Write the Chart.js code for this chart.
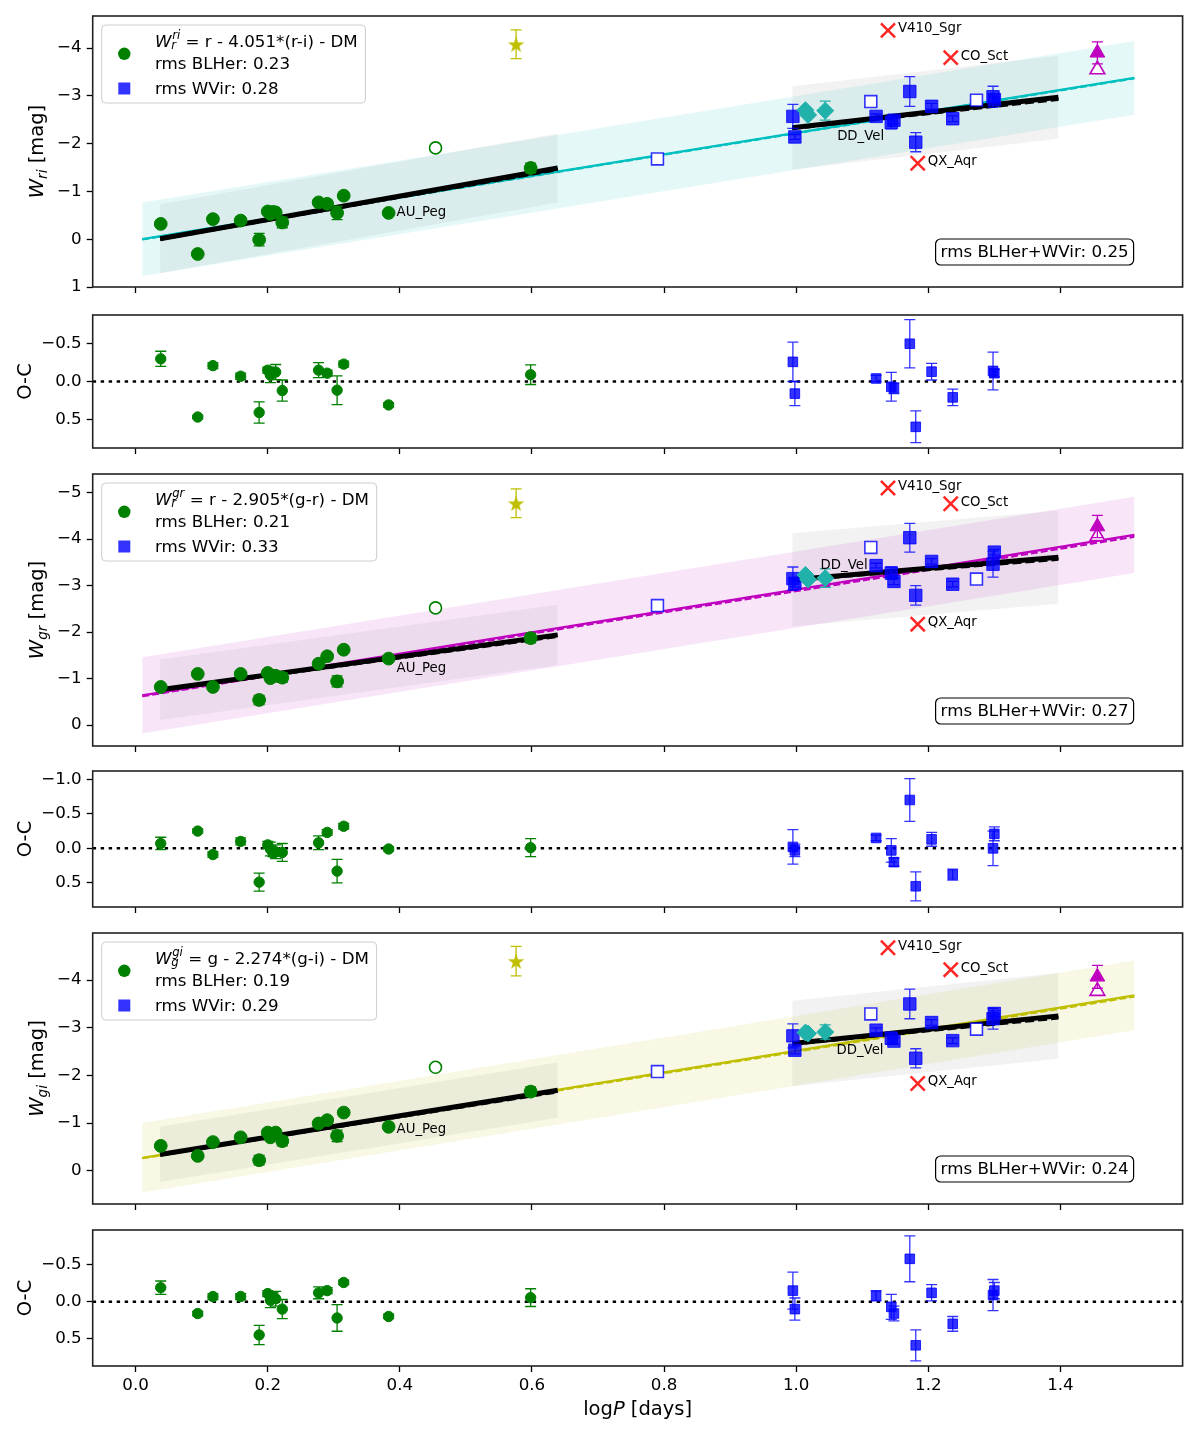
<!DOCTYPE html>
<html><head><meta charset="utf-8">
<script src="https://cdn.jsdelivr.net/npm/chart.js@4.4.1/dist/chart.umd.min.js"></script>
<style>
html,body{margin:0;padding:0;background:#fff;}
#wrap{position:relative;width:1200px;height:1432px;background:#fff;overflow:hidden;}
#wrap canvas{position:absolute;left:0;}
</style></head><body><div id="wrap"></div>
<script>
// ---------------- data ----------------
const xTicks = [0.0, 0.2, 0.4, 0.6, 0.8, 1.0, 1.2, 1.4];
const xMin = -0.065, xMax = 1.585;

const blhLogP = [0.038, 0.094, 0.117, 0.159, 0.187, 0.200, 0.204, 0.208, 0.212, 0.222, 0.277, 0.290, 0.305, 0.315, 0.383, 0.598];
const wvLogP = [0.995, 0.998, 1.121, 1.144, 1.148, 1.172, 1.181, 1.205, 1.237, 1.298, 1.300];
const openSqLogP = [0.790, 1.113, 1.273];
const openCircLogP = [0.454];
const starLogP = [0.576];
const diamondLogP = [1.014, 1.018, 1.044];
const outlierNames = ['V410_Sgr', 'CO_Sct', 'QX_Aqr'];
const outlierLogP = [1.139, 1.234, 1.184];
const triLogP = [1.456];
const fitLogP = [0.01, 1.512];
const blhFitLogP = [0.037, 0.639];
const wvFitLogP = [0.994, 1.397];

// r-i Wesenheit panel
const riTicks = [-4, -3, -2, -1, 0, 1];
const ri_blh = [-0.32, 0.31, -0.42, -0.39, 0.01, -0.58, -0.53, -0.57, -0.56, -0.35, -0.77, -0.74, -0.55, -0.91, -0.55, -1.49];
const ri_blhErr = [0.04, 0.03, 0.03, 0.04, 0.13, 0.04, 0.05, 0.05, 0.05, 0.11, 0.05, 0.05, 0.14, 0.03, 0.03, 0.10];
const ri_wv = [-2.57, -2.14, -2.57, -2.44, -2.49, -3.09, -2.03, -2.78, -2.52, -2.98, -2.92];
const ri_wvErr = [0.25, 0.05, 0.05, 0.13, 0.07, 0.31, 0.20, 0.06, 0.06, 0.22, 0.05];
const ri_openSq = [-1.68, -2.88, -2.91];
const ri_openCirc = [-1.91];
const ri_star = [-4.08], ri_starErr = [0.30];
const ri_diamond = [-2.70, -2.60, -2.69], ri_diamondErr = [0.05, 0.05, 0.20];
const ri_outlier = [-4.37, -3.80, -1.59];
const ri_triFilled = [-3.90], ri_triErr = [0.23], ri_triOpen = [-3.55];
const ri_fit = [0.00, -3.375], ri_fitDash = [0.005, -3.365], ri_band = 0.77;
const ri_blhFit = [-0.01, -1.49], ri_blhFitDash = [-0.005, -1.46], ri_blhBand = 0.72;
const ri_wvFit = [-2.33, -2.97], ri_wvFitDash = [-2.32, -2.93], ri_wvBand = 0.87;
const ri_auPeg = [0.395, -0.55], ri_ddVel = [1.062, -2.15];
// r-i O-C panel
const riOcTicks = [-0.5, 0.0, 0.5];
const ri_ocBlh = [-0.30, 0.47, -0.21, -0.07, 0.41, -0.15, -0.085, -0.12, -0.125, 0.12, -0.15, -0.11, 0.115, -0.23, 0.31, -0.09];
const ri_ocBlhErr = [0.10, 0.02, 0.04, 0.04, 0.14, 0.04, 0.10, 0.05, 0.10, 0.14, 0.10, 0.04, 0.19, 0.04, 0.03, 0.13];
const ri_ocWv = [-0.26, 0.16, -0.04, 0.07, 0.09, -0.50, 0.60, -0.13, 0.21, -0.14, -0.11];
const ri_ocWvErr = [0.26, 0.16, 0.04, 0.19, 0.07, 0.32, 0.21, 0.11, 0.11, 0.25, 0.05];

// g-r Wesenheit panel
const grTicks = [-5, -4, -3, -2, -1, 0];
const gr_blh = [-0.82, -1.10, -0.82, -1.10, -0.54, -1.12, -1.01, -1.06, -1.06, -1.02, -1.32, -1.48, -0.94, -1.62, -1.43, -1.87];
const gr_blhErr = [0.04, 0.03, 0.03, 0.04, 0.10, 0.04, 0.05, 0.05, 0.08, 0.10, 0.06, 0.04, 0.12, 0.03, 0.03, 0.10];
const gr_wv = [-3.15, -3.05, -3.43, -3.27, -3.09, -4.03, -2.79, -3.52, -3.03, -3.46, -3.72];
const gr_wvErr = [0.25, 0.08, 0.05, 0.13, 0.07, 0.31, 0.21, 0.06, 0.06, 0.28, 0.06];
const gr_openSq = [-2.57, -3.82, -3.14];
const gr_openCirc = [-2.52];
const gr_star = [-4.77], gr_starErr = [0.31];
const gr_diamond = [-3.23, -3.13, -3.16], gr_diamondErr = [0.05, 0.05, 0.20];
const gr_outlier = [-5.10, -4.76, -2.17];
const gr_triFilled = [-4.27], gr_triErr = [0.24], gr_triOpen = [-4.06];
const gr_fit = [-0.64, -4.09], gr_fitDash = [-0.62, -4.05], gr_band = 0.82;
const gr_blhFit = [-0.76, -1.94], gr_blhFitDash = [-0.75, -1.91], gr_blhBand = 0.65;
const gr_wvFit = [-3.125, -3.61], gr_wvFitDash = [-3.115, -3.57], gr_wvBand = 1.0;
const gr_auPeg = [0.395, -1.21], gr_ddVel = [1.037, -3.43];
// g-r O-C panel
const grOcTicks = [-1.0, -0.5, 0.0, 0.5];
const gr_ocBlh = [-0.07, -0.25, 0.09, -0.10, 0.49, -0.05, 0.01, 0.07, 0.05, 0.06, -0.08, -0.23, 0.33, -0.32, 0.01, -0.01];
const gr_ocBlhErr = [0.09, 0.03, 0.04, 0.05, 0.13, 0.05, 0.10, 0.05, 0.10, 0.13, 0.10, 0.04, 0.17, 0.04, 0.03, 0.13];
const gr_ocWv = [-0.02, 0.03, -0.15, 0.03, 0.20, -0.70, 0.55, -0.13, 0.38, 0.00, -0.21];
const gr_ocWvErr = [0.25, 0.09, 0.04, 0.17, 0.06, 0.31, 0.21, 0.10, 0.08, 0.25, 0.10];

// g-i Wesenheit panel
const giTicks = [-4, -3, -2, -1, 0];
const gi_blh = [-0.52, -0.31, -0.60, -0.70, -0.22, -0.80, -0.70, -0.76, -0.80, -0.62, -0.99, -1.06, -0.73, -1.22, -0.92, -1.66];
const gi_blhErr = [0.04, 0.03, 0.03, 0.04, 0.10, 0.04, 0.05, 0.05, 0.05, 0.10, 0.05, 0.04, 0.12, 0.03, 0.03, 0.10];
const gi_wv = [-2.83, -2.53, -2.95, -2.78, -2.72, -3.50, -2.36, -3.11, -2.73, -3.19, -3.30];
const gi_wvErr = [0.25, 0.08, 0.05, 0.13, 0.07, 0.31, 0.20, 0.06, 0.06, 0.22, 0.06];
const gi_openSq = [-2.08, -3.29, -2.97];
const gi_openCirc = [-2.17];
const gi_star = [-4.40], gi_starErr = [0.31];
const gi_diamond = [-2.90, -2.88, -2.91], gi_diamondErr = [0.05, 0.05, 0.15];
const gi_outlier = [-4.68, -4.22, -1.83];
const gi_triFilled = [-4.07], gi_triErr = [0.24], gi_triOpen = [-3.77];
const gi_fit = [-0.27, -3.68], gi_fitDash = [-0.26, -3.655], gi_band = 0.73;
const gi_blhFit = [-0.34, -1.69], gi_blhFitDash = [-0.335, -1.66], gi_blhBand = 0.58;
const gi_wvFit = [-2.67, -3.25], gi_wvFitDash = [-2.66, -3.21], gi_wvBand = 0.9;
const gi_auPeg = [0.395, -0.86], gi_ddVel = [1.061, -2.53];
// g-i O-C panel
const giOcTicks = [-0.5, 0.0, 0.5];
const gi_ocBlh = [-0.19, 0.16, -0.07, -0.07, 0.45, -0.11, -0.02, -0.07, -0.04, 0.10, -0.12, -0.15, 0.22, -0.26, 0.20, -0.055];
const gi_ocBlhErr = [0.09, 0.03, 0.04, 0.04, 0.13, 0.04, 0.10, 0.05, 0.10, 0.13, 0.08, 0.04, 0.18, 0.03, 0.03, 0.12];
const gi_ocWv = [-0.15, 0.10, -0.08, 0.07, 0.16, -0.58, 0.59, -0.12, 0.30, -0.09, -0.15];
const gi_ocWvErr = [0.25, 0.15, 0.07, 0.17, 0.10, 0.31, 0.21, 0.11, 0.10, 0.21, 0.11];

// ---------------- style ----------------
const FONT = '"DejaVu Sans", "Liberation Sans", sans-serif';
const TXT = 16.7, TITLE = 19.5, ANN = 13.3;
const GREEN = '#008000', BLUE = 'rgba(0,0,255,0.8)', RED = 'rgba(255,0,0,0.85)';
const TEAL = '#20b2aa', MAG = '#bf00bf', YEL = '#bfbf00', CYAN = '#00bfbf';
const GRAYBAND = 'rgba(128,128,128,0.10)';
Chart.defaults.font.family = FONT;
Chart.defaults.font.size = TXT;
Chart.defaults.color = '#000';

function starImg(color) {
  const s = 22, c = document.createElement('canvas');
  c.width = s; c.height = s;
  const g = c.getContext('2d');
  g.fillStyle = color; g.beginPath();
  for (let i = 0; i < 10; i++) {
    const r = i % 2 ? 3.4 : 8.6, a = -Math.PI / 2 + i * Math.PI / 5;
    g.lineTo(s / 2 + r * Math.cos(a), s / 2 + 0.9 + r * Math.sin(a));
  }
  g.closePath(); g.fill();
  return c;
}
const STAR = starImg(YEL);

function pts(xs, ys) { return xs.map((x, i) => ({x: x, y: ys[i]})); }
function shift(ys, d) { return ys.map(v => v + d); }
function lineDs(xs, ys, color, width, dash, order) {
  return {data: pts(xs, ys), showLine: true, borderColor: color, borderWidth: width, borderDash: dash, pointRadius: 0, fill: false, order: order};
}
function bandDs(xs, ys, hw, color, order) {
  return [
    {data: pts(xs, shift(ys, -hw)), showLine: true, borderWidth: 0, borderColor: 'rgba(0,0,0,0)', pointRadius: 0, fill: false, order: order},
    {data: pts(xs, shift(ys, hw)), showLine: true, borderWidth: 0, borderColor: 'rgba(0,0,0,0)', pointRadius: 0, fill: '-1', backgroundColor: color, order: order}
  ];
}
function ptDs(xs, ys, o) {
  return Object.assign({data: pts(xs, ys), showLine: false, pointHoverRadius: 0, order: 20}, o);
}

function wDatasets(d) {
  const ds = [];
  ds.push(...bandDs(fitLogP, d.fit, d.band, d.bandColor, 100));
  ds.push(...bandDs(blhFitLogP, d.blhFit, d.blhBand, GRAYBAND, 90));
  ds.push(...bandDs(wvFitLogP, d.wvFit, d.wvBand, GRAYBAND, 90));
  ds.push(lineDs(fitLogP, d.fitDash, d.color, 2.2, [7, 3], 81));
  ds.push(lineDs(fitLogP, d.fit, d.color, 2.2, [], 80));
  ds.push(lineDs(blhFitLogP, d.blhFitDash, '#000', 3.5, [9, 4], 71));
  ds.push(lineDs(blhFitLogP, d.blhFit, '#000', 5, [], 70));
  ds.push(lineDs(wvFitLogP, d.wvFitDash, '#000', 3.5, [9, 4], 71));
  ds.push(lineDs(wvFitLogP, d.wvFit, '#000', 5, [], 70));
  ds.push(ptDs(blhLogP, d.blh, {pointStyle: 'circle', pointRadius: 6.4, pointBackgroundColor: GREEN, pointBorderColor: GREEN, pointBorderWidth: 1, errs: d.blhErr, errColor: GREEN, order: 20}));
  ds.push(ptDs(wvLogP, d.wv, {pointStyle: 'rect', pointRadius: 8.8, pointBackgroundColor: BLUE, pointBorderColor: BLUE, pointBorderWidth: 1, errs: d.wvErr, errColor: BLUE, order: 19}));
  ds.push(ptDs(openSqLogP, d.openSq, {pointStyle: 'rect', pointRadius: 8.4, pointBackgroundColor: '#fff', pointBorderColor: BLUE, pointBorderWidth: 1.6, order: 19}));
  ds.push(ptDs(openCircLogP, d.openCirc, {pointStyle: 'circle', pointRadius: 6, pointBackgroundColor: '#fff', pointBorderColor: GREEN, pointBorderWidth: 1.6, order: 19}));
  ds.push(ptDs(starLogP, d.star, {pointStyle: STAR, pointRadius: 9, errs: d.starErr, errColor: YEL, order: 18}));
  ds.push(ptDs(diamondLogP, d.diamond, {pointStyle: 'rectRot', pointRadius: 8.5, pointBackgroundColor: TEAL, pointBorderColor: TEAL, pointBorderWidth: 1, errs: d.diamondErr, errColor: TEAL, order: 17}));
  ds.push(ptDs(outlierLogP, d.outlier, {pointStyle: 'crossRot', pointRadius: 10, pointBorderColor: RED, pointBorderWidth: 2.5, order: 16}));
  ds.push(ptDs(triLogP, d.triFilled, {pointStyle: 'triangle', pointRadius: 8.5, pointBackgroundColor: MAG, pointBorderColor: MAG, pointBorderWidth: 1, errs: d.triErr, errColor: MAG, order: 16}));
  ds.push(ptDs(triLogP, d.triOpen, {pointStyle: 'triangle', pointRadius: 8.5, pointBackgroundColor: '#fff', pointBorderColor: MAG, pointBorderWidth: 1.6, order: 16}));
  return ds;
}
function ocDatasets(blh, blhErr, wv, wvErr) {
  return [
    lineDs([xMin, xMax], [0, 0], '#000', 2.4, [3.4, 4.6], 50),
    ptDs(blhLogP, blh, {pointStyle: 'circle', pointRadius: 5.2, pointBackgroundColor: GREEN, pointBorderColor: GREEN, pointBorderWidth: 1, errs: blhErr, errColor: GREEN, order: 10}),
    ptDs(wvLogP, wv, {pointStyle: 'rect', pointRadius: 6.8, pointBackgroundColor: BLUE, pointBorderColor: BLUE, pointBorderWidth: 1, errs: wvErr, errColor: BLUE, order: 10})
  ];
}

// ---------------- drawing helpers ----------------
function rich(ctx, parts, x, y, size, draw) {
  let cx = x, sx = 0, smax = 0;
  for (const p of parts) {
    const fs = size * (p.s || 1);
    ctx.font = (p.it ? 'italic ' : '') + fs + 'px ' + FONT;
    if (p.st === 1) { sx = cx; smax = 0; }
    if (p.st === 2) { cx = sx; }
    const ox = (p.dx || 0) * size;
    if (draw) ctx.fillText(p.t, cx + ox, y + (p.dy || 0) * size);
    const w = ctx.measureText(p.t).width + ox;
    if (p.st) { smax = Math.max(smax, w); cx = sx + smax; } else cx += w;
  }
  return cx - x;
}
function rrect(ctx, x, y, w, h, r) {
  ctx.beginPath();
  ctx.moveTo(x + r, y); ctx.lineTo(x + w - r, y); ctx.arcTo(x + w, y, x + w, y + r, r);
  ctx.lineTo(x + w, y + h - r); ctx.arcTo(x + w, y + h, x + w - r, y + h, r);
  ctx.lineTo(x + r, y + h); ctx.arcTo(x, y + h, x, y + h - r, r);
  ctx.lineTo(x, y + r); ctx.arcTo(x, y, x + r, y, r); ctx.closePath();
}
function drawLegend(ctx, a, L) {
  const bx = a.left + 9, by = a.top + 9, bh = 78, tx = a.left + 62.3;
  const f = [{t: 'W', it: true}, {t: L.sup, it: true, s: 0.7, dy: -0.42, st: 1, dx: 0.04}, {t: L.sub, it: true, s: 0.7, dy: 0.15, st: 2, dx: -0.02}, {t: L.rest}];
  const fw = rich(ctx, f, tx, 0, TXT, false);
  ctx.font = TXT + 'px ' + FONT;
  const w2 = Math.max(ctx.measureText(L.bl).width, ctx.measureText(L.wv).width);
  const bw = tx + Math.max(fw, w2) + 7.7 - bx;
  ctx.save();
  rrect(ctx, bx, by, bw, bh, 4);
  ctx.fillStyle = 'rgba(255,255,255,0.8)'; ctx.fill();
  ctx.strokeStyle = '#cccccc'; ctx.lineWidth = 1; ctx.stroke();
  ctx.fillStyle = '#000'; ctx.textBaseline = 'alphabetic'; ctx.textAlign = 'left';
  rich(ctx, f, tx, a.top + 30.5, TXT, true);
  ctx.font = TXT + 'px ' + FONT;
  ctx.fillText(L.bl, tx, a.top + 53);
  ctx.fillText(L.wv, tx, a.top + 77.5);
  ctx.fillStyle = GREEN; ctx.beginPath(); ctx.arc(a.left + 31.6, a.top + 37.8, 6.2, 0, 2 * Math.PI); ctx.fill();
  ctx.fillStyle = BLUE; ctx.fillRect(a.left + 31.6 - 6, a.top + 72.5 - 6, 12, 12);
  ctx.restore();
}
function drawRms(ctx, a, text) {
  const w = 198, h = 26, x = a.right - 49 - w, y = a.bottom - 22 - h;
  ctx.save();
  rrect(ctx, x, y, w, h, 5);
  ctx.fillStyle = '#fff'; ctx.fill();
  ctx.strokeStyle = '#000'; ctx.lineWidth = 1.2; ctx.stroke();
  ctx.fillStyle = '#000'; ctx.font = TXT + 'px ' + FONT; ctx.textAlign = 'center'; ctx.textBaseline = 'middle';
  ctx.fillText(text, x + w / 2, y + h / 2 + 1);
  ctx.restore();
}
function drawYTitle(ctx, a, parts, bx) {
  ctx.save();
  const w = rich(ctx, parts, 0, 0, TITLE, false);
  ctx.translate(bx, (a.top + a.bottom) / 2);
  ctx.rotate(-Math.PI / 2);
  ctx.fillStyle = '#000'; ctx.textAlign = 'left'; ctx.textBaseline = 'alphabetic';
  rich(ctx, parts, -w / 2, 0, TITLE, true);
  ctx.restore();
}

const decorCfg = {};
const decor = {
  id: 'decor',
  beforeDatasetDraw(chart, args) {
    const ds = chart.data.datasets[args.index];
    if (!ds.errs) return;
    const ctx = chart.ctx, xs = chart.scales.x, ys = chart.scales.y, a = chart.chartArea;
    ctx.save();
    ctx.beginPath(); ctx.rect(a.left, a.top, a.right - a.left, a.bottom - a.top); ctx.clip();
    ctx.strokeStyle = ds.errColor; ctx.lineWidth = 1.3;
    const cap = 5.5;
    ds.data.forEach((p, i) => {
      const e = ds.errs[i]; if (!e) return;
      const px = xs.getPixelForValue(p.x);
      const y1 = ys.getPixelForValue(p.y - e), y2 = ys.getPixelForValue(p.y + e);
      ctx.beginPath();
      ctx.moveTo(px, y1); ctx.lineTo(px, y2);
      ctx.moveTo(px - cap, y1); ctx.lineTo(px + cap, y1);
      ctx.moveTo(px - cap, y2); ctx.lineTo(px + cap, y2);
      ctx.stroke();
    });
    ctx.restore();
  },
  afterDatasetsDraw(chart) {
    const cfg = decorCfg[chart.canvas.id]; if (!cfg) return;
    const ctx = chart.ctx, a = chart.chartArea, xs = chart.scales.x, ys = chart.scales.y;
    ctx.save();
    if (cfg.labels) {
      ctx.fillStyle = '#000'; ctx.font = ANN + 'px ' + FONT; ctx.textAlign = 'left'; ctx.textBaseline = 'middle';
      cfg.labels.forEach(l => {
        ctx.fillText(l.t, xs.getPixelForValue(l.x) + l.dx, ys.getPixelForValue(l.y) + l.dy);
      });
    }
    ctx.strokeStyle = '#222'; ctx.lineWidth = 1.6;
    ctx.strokeRect(a.left, a.top, a.right - a.left, a.bottom - a.top);
    ctx.restore();
  },
  afterDraw(chart) {
    const cfg = decorCfg[chart.canvas.id]; if (!cfg) return;
    const ctx = chart.ctx, a = chart.chartArea;
    if (cfg.legend) drawLegend(ctx, a, cfg.legend);
    if (cfg.rms) drawRms(ctx, a, cfg.rms);
    if (cfg.yTitle) drawYTitle(ctx, a, cfg.yTitle, cfg.yTitleX);
    if (cfg.xTitle) {
      ctx.save();
      const parts = cfg.xTitle;
      const w = rich(ctx, parts, 0, 0, TITLE, false);
      ctx.fillStyle = '#000'; ctx.textAlign = 'left'; ctx.textBaseline = 'alphabetic';
      rich(ctx, parts, (a.left + a.right) / 2 - w / 2, a.bottom + 49, TITLE, true);
      ctx.restore();
    }
  }
};
Chart.register(decor);

function fmt(v, dec) {
  const s = Math.abs(v).toFixed(dec);
  return (v < -1e-9 ? '\u2212' : '') + s;
}

function wLabels(outY, auPeg, ddVel) {
  const L = outlierNames.map((n, i) => ({t: n, x: outlierLogP[i], y: outY[i], dx: 10, dy: -1.5}));
  L.push({t: 'AU_Peg', x: auPeg[0], y: auPeg[1], dx: 0, dy: 0});
  L.push({t: 'DD_Vel', x: ddVel[0], y: ddVel[1], dx: 0, dy: 0});
  return L;
}

const panels = [
  {id: 'ri', top: 16, bottom: 287, yMin: -4.67, yMax: 1.0, yTicks: riTicks, dec: 0,
   datasets: wDatasets({fit: ri_fit, fitDash: ri_fitDash, band: ri_band, color: CYAN, bandColor: 'rgba(0,191,191,0.10)',
     blhFit: ri_blhFit, blhFitDash: ri_blhFitDash, blhBand: ri_blhBand, wvFit: ri_wvFit, wvFitDash: ri_wvFitDash, wvBand: ri_wvBand,
     blh: ri_blh, blhErr: ri_blhErr, wv: ri_wv, wvErr: ri_wvErr, openSq: ri_openSq, openCirc: ri_openCirc, star: ri_star, starErr: ri_starErr,
     diamond: ri_diamond, diamondErr: ri_diamondErr, outlier: ri_outlier, triFilled: ri_triFilled, triErr: ri_triErr, triOpen: ri_triOpen}),
   decor: {legend: {sup: 'ri', sub: 'r', rest: ' = r - 4.051*(r-i) - DM', bl: 'rms BLHer: 0.23', wv: 'rms WVir: 0.28'},
     rms: 'rms BLHer+WVir: 0.25', yTitle: [{t: 'W', it: true}, {t: 'ri', it: true, s: 0.7, dy: 0.22}, {t: ' [mag]'}], yTitleX: 43,
     labels: wLabels(ri_outlier, ri_auPeg, ri_ddVel)}},
  {id: 'riOC', top: 315, bottom: 448, yMin: -0.88, yMax: 0.88, yTicks: riOcTicks, dec: 1,
   datasets: ocDatasets(ri_ocBlh, ri_ocBlhErr, ri_ocWv, ri_ocWvErr),
   decor: {yTitle: [{t: 'O-C'}], yTitleX: 30.5}},
  {id: 'gr', top: 474, bottom: 746, yMin: -5.40, yMax: 0.45, yTicks: grTicks, dec: 0,
   datasets: wDatasets({fit: gr_fit, fitDash: gr_fitDash, band: gr_band, color: MAG, bandColor: 'rgba(191,0,191,0.10)',
     blhFit: gr_blhFit, blhFitDash: gr_blhFitDash, blhBand: gr_blhBand, wvFit: gr_wvFit, wvFitDash: gr_wvFitDash, wvBand: gr_wvBand,
     blh: gr_blh, blhErr: gr_blhErr, wv: gr_wv, wvErr: gr_wvErr, openSq: gr_openSq, openCirc: gr_openCirc, star: gr_star, starErr: gr_starErr,
     diamond: gr_diamond, diamondErr: gr_diamondErr, outlier: gr_outlier, triFilled: gr_triFilled, triErr: gr_triErr, triOpen: gr_triOpen}),
   decor: {legend: {sup: 'gr', sub: 'r', rest: ' = r - 2.905*(g-r) - DM', bl: 'rms BLHer: 0.21', wv: 'rms WVir: 0.33'},
     rms: 'rms BLHer+WVir: 0.27', yTitle: [{t: 'W', it: true}, {t: 'gr', it: true, s: 0.7, dy: 0.22}, {t: ' [mag]'}], yTitleX: 43,
     labels: wLabels(gr_outlier, gr_auPeg, gr_ddVel)}},
  {id: 'grOC', top: 771, bottom: 907, yMin: -1.12, yMax: 0.85, yTicks: grOcTicks, dec: 1,
   datasets: ocDatasets(gr_ocBlh, gr_ocBlhErr, gr_ocWv, gr_ocWvErr),
   decor: {yTitle: [{t: 'O-C'}], yTitleX: 30.5}},
  {id: 'gi', top: 933, bottom: 1204, yMin: -4.99, yMax: 0.70, yTicks: giTicks, dec: 0,
   datasets: wDatasets({fit: gi_fit, fitDash: gi_fitDash, band: gi_band, color: YEL, bandColor: 'rgba(191,191,0,0.10)',
     blhFit: gi_blhFit, blhFitDash: gi_blhFitDash, blhBand: gi_blhBand, wvFit: gi_wvFit, wvFitDash: gi_wvFitDash, wvBand: gi_wvBand,
     blh: gi_blh, blhErr: gi_blhErr, wv: gi_wv, wvErr: gi_wvErr, openSq: gi_openSq, openCirc: gi_openCirc, star: gi_star, starErr: gi_starErr,
     diamond: gi_diamond, diamondErr: gi_diamondErr, outlier: gi_outlier, triFilled: gi_triFilled, triErr: gi_triErr, triOpen: gi_triOpen}),
   decor: {legend: {sup: 'gi', sub: 'g', rest: ' = g - 2.274*(g-i) - DM', bl: 'rms BLHer: 0.19', wv: 'rms WVir: 0.29'},
     rms: 'rms BLHer+WVir: 0.24', yTitle: [{t: 'W', it: true}, {t: 'gi', it: true, s: 0.7, dy: 0.22}, {t: ' [mag]'}], yTitleX: 43,
     labels: wLabels(gi_outlier, gi_auPeg, gi_ddVel)}},
  {id: 'giOC', top: 1230, bottom: 1366, yMin: -0.97, yMax: 0.87, yTicks: giOcTicks, dec: 1, last: true,
   datasets: ocDatasets(gi_ocBlh, gi_ocBlhErr, gi_ocWv, gi_ocWvErr),
   decor: {yTitle: [{t: 'O-C'}], yTitleX: 30.5, xTitle: [{t: 'log'}, {t: 'P', it: true}, {t: ' [days]'}]}}
];

const wrap = document.getElementById('wrap');
const PADT = 16;
panels.forEach(p => {
  const xh = p.last ? 60 : 16;
  const h = (p.bottom - p.top) + PADT + xh;
  const cv = document.createElement('canvas');
  cv.id = p.id; cv.width = 1200; cv.height = h;
  cv.style.top = (p.top - PADT) + 'px'; cv.style.width = '1200px'; cv.style.height = h + 'px';
  wrap.appendChild(cv);
  decorCfg[p.id] = p.decor;
  new Chart(cv, {
    type: 'line',
    data: {datasets: p.datasets},
    options: {
      responsive: false, animation: false, events: [],
      layout: {padding: {top: PADT, right: 17.4, left: 0, bottom: 0}},
      plugins: {legend: {display: false}, tooltip: {enabled: false}},
      scales: {
        x: {
          type: 'linear', min: xMin, max: xMax,
          afterBuildTicks: s => { s.ticks = xTicks.map(v => ({value: v})); },
          afterFit: s => { s.height = xh; },
          grid: {display: true, drawOnChartArea: false, drawTicks: true, tickLength: 6, tickColor: '#000', tickWidth: 1.3},
          border: {display: false},
          ticks: {display: !!p.last, padding: 4, color: '#000', font: {size: TXT}, maxRotation: 0, autoSkip: false, callback: v => v.toFixed(1)}
        },
        y: {
          type: 'linear', reverse: true, min: p.yMin, max: p.yMax,
          afterBuildTicks: s => { s.ticks = p.yTicks.map(v => ({value: v})); },
          afterFit: s => { s.width = 92.7; },
          grid: {display: true, drawOnChartArea: false, drawTicks: true, tickLength: 6, tickColor: '#000', tickWidth: 1.3},
          border: {display: false},
          ticks: {padding: 5, color: '#000', font: {size: TXT}, autoSkip: false, callback: v => fmt(v, p.dec)}
        }
      }
    }
  });
});
</script></body></html>
